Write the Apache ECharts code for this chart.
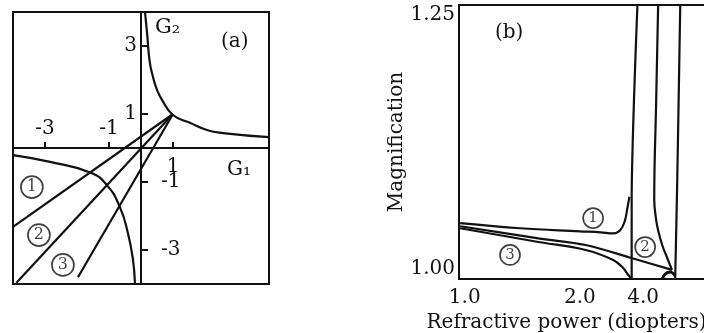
<!DOCTYPE html>
<html>
<head>
<meta charset="utf-8">
<script src="https://cdn.jsdelivr.net/npm/echarts@6/dist/echarts.min.js"></script>
<style>
  html, body { margin: 0; padding: 0; background: #fff; }
  #chart { width: 704px; height: 333px; }
</style>
</head>
<body>
<div id="chart"></div>
<script>
// ---------- (a) G1–G2 plane ----------
const hyperbolaA = [[0.125, 4.0], [0.19, 3.38], [0.27, 2.55], [0.375, 2.09], [0.5, 1.71], [0.66, 1.41],
                    [1.0, 0.97], [1.53, 0.74], [2.06, 0.53], [2.56, 0.44], [4.0, 0.32]];
const arcA = [[-4.0, -0.21], [-2.84, -0.41], [-1.59, -0.72], [-1.06, -1.10], [-0.66, -1.74],
              [-0.41, -2.5], [-0.25, -3.29], [-0.19, -3.97]];
const ray1 = [[1, 1], [-4.0, -2.32]];
const ray2 = [[1, 1], [-3.9, -3.97]];
const ray3 = [[1, 1], [-1.97, -3.8]];
const tagsA = [[-3.41, -1.15, '1'], [-3.19, -2.56, '2'], [-2.44, -3.44, '3']];
const g1Ticks = [-3, -1, 1];
const g1LabelsAbove = [-3, -1];
const g1LabelsBelow = [1];
const g2Ticks = [3, 1, -1, -3];
const g2LabelsLeft = [3, 1];
const g2LabelsRight = [-1, -3];

// ---------- (b) magnification vs refractive power ----------
const curve1Left = [[0.96, 1.045], [1.48, 1.040], [2.00, 1.037], [2.18, 1.036], [2.29, 1.035],
                    [2.35, 1.038], [2.39, 1.047], [2.41, 1.058], [2.43, 1.071]];
const curve1Right = [[2.50, 1.26], [2.47, 1.166], [2.45, 1.068], [2.45, 0.99]];
const curve2Left = [[0.96, 1.042], [1.64, 1.030], [2.05, 1.0235], [2.44, 1.011], [2.80, 0.999]];
const curve2Right = [[2.68, 1.26], [2.663, 1.166], [2.646, 1.068], [2.663, 1.048], [2.68, 1.038],
                     [2.715, 1.0235], [2.759, 1.0107], [2.80, 0.999]];
const curve3 = [[0.96, 1.040], [1.64, 1.0265], [2.05, 1.0186], [2.29, 1.0087], [2.376, 1.0008],
                [2.42, 0.9939], [2.454, 0.99]];
const farBranch = [[2.872, 1.26], [2.846, 1.0876], [2.828, 0.99]];
const cuspLoop = [[2.715, 0.99], [2.741, 0.9949], [2.785, 0.9969], [2.828, 0.993]];
const tagsB = [[2.115, 1.050, '1'], [2.567, 1.0215, '2'], [1.393, 1.0137, '3']];
const powerTickValues = [1.0, 2.0, 2.55];
const powerTickLabels = ['1.0', '2.0', '4.0'];
const magTickValues = [1.0, 1.25];

// ---------- styling ----------
const ink = '#111';
const serif = 'DejaVu Serif';
const gridA = { left: 13, top: 12, width: 256, height: 272 };
const gridB = { left: 459, top: 5, width: 259, height: 274 };
const rangeA = [-4, 4];
const rangeBx = [0.95, 3.2];
const rangeBy = [0.99, 1.26];

// axes of panel (a) cross at the origin: shift them inward from the grid edges
const xAxisShift = -gridA.height * (0 - rangeA[0]) / (rangeA[1] - rangeA[0]);
const yAxisShift = -gridA.width * (0 - rangeA[0]) / (rangeA[1] - rangeA[0]);

const txt = (size) => ({ color: ink, fontFamily: serif, fontSize: size });

function curve(data, xi, yi, smooth, width) {
  return {
    type: 'line', data, xAxisIndex: xi, yAxisIndex: yi,
    showSymbol: false, smooth: smooth, silent: true,
    lineStyle: { color: ink, width: width || 2.2 }
  };
}
// circled curve numbers
function tags(data, xi, yi, d, size) {
  return {
    type: 'scatter', data, xAxisIndex: xi, yAxisIndex: yi, silent: true,
    symbolSize: 1, itemStyle: { color: 'rgba(0,0,0,0)' },
    label: {
      show: true, position: 'inside', formatter: (p) => '{c|' + p.data[2] + '}',
      rich: {
        c: {
          width: d, height: d, lineHeight: d, align: 'center', verticalAlign: 'middle',
          borderColor: ink, borderWidth: 1.7, borderRadius: d / 2,
          color: ink, fontFamily: serif, fontSize: size
        }
      }
    }
  };
}

const powerLabelMap = new Map(powerTickValues.map((v, i) => [v, powerTickLabels[i]]));

const option = {
  animation: false,
  backgroundColor: '#fff',
  title: [
    { text: '(a)', left: 221, top: 32, padding: 0, textStyle: Object.assign(txt(20), { fontWeight: 'normal' }) },
    { text: '(b)', left: 495, top: 23, padding: 0, textStyle: Object.assign(txt(20), { fontWeight: 'normal' }) }
  ],
  grid: [
    Object.assign({ show: true, borderColor: ink, borderWidth: 2, outerBoundsMode: 'none' }, gridA),
    Object.assign({ show: true, borderColor: ink, borderWidth: 2, outerBoundsMode: 'none' }, gridB)
  ],
  xAxis: [
    { // G1 axis through the origin, label "1" underneath
      gridIndex: 0, type: 'value', min: rangeA[0], max: rangeA[1], position: 'bottom', offset: xAxisShift,
      axisLine: { show: true, onZero: false, lineStyle: { color: ink, width: 2 } },
      axisTick: { show: true, customValues: g1Ticks, inside: true, length: 6, lineStyle: { color: ink, width: 2 } },
      axisLabel: Object.assign({ customValues: g1LabelsBelow, margin: 9 }, txt(20)),
      splitLine: { show: false },
      name: 'G₁', nameLocation: 'end', nameGap: -42,
      nameTextStyle: Object.assign({ align: 'left', verticalAlign: 'top', padding: [12, 0, 0, 0] }, txt(20))
    },
    { // labels above the G1 axis
      gridIndex: 0, type: 'value', min: rangeA[0], max: rangeA[1], position: 'top', offset: xAxisShift,
      axisLine: { show: false, onZero: false }, axisTick: { show: false },
      axisLabel: Object.assign({ customValues: g1LabelsAbove, margin: 9 }, txt(20)),
      splitLine: { show: false }
    },
    { // refractive power
      gridIndex: 1, type: 'value', min: rangeBx[0], max: rangeBx[1], position: 'bottom',
      axisLine: { show: false, onZero: false }, axisTick: { show: false },
      axisLabel: Object.assign({
        customValues: powerTickValues, margin: 9,
        formatter: (v) => powerLabelMap.has(v) ? powerLabelMap.get(v) : ''
      }, txt(20)),
      splitLine: { show: false },
      name: 'Refractive power (diopters)', nameLocation: 'middle', nameGap: 30,
      nameTextStyle: Object.assign({ padding: [0, 44, 0, 0] }, txt(20))
    }
  ],
  yAxis: [
    { // G2 axis through the origin, labels on the left
      gridIndex: 0, type: 'value', min: rangeA[0], max: rangeA[1], position: 'left', offset: yAxisShift,
      axisLine: { show: true, onZero: false, lineStyle: { color: ink, width: 2 } },
      axisTick: { show: true, customValues: g2Ticks, inside: true, length: 7, lineStyle: { color: ink, width: 2 } },
      axisLabel: Object.assign({ customValues: g2LabelsLeft, margin: 4 }, txt(20)),
      splitLine: { show: false },
      name: 'G₂', nameLocation: 'end', nameGap: -26,
      nameTextStyle: Object.assign({ align: 'left', verticalAlign: 'bottom', padding: [0, 0, 0, 14] }, txt(21))
    },
    { // negative G2 labels to the right of the axis
      gridIndex: 0, type: 'value', min: rangeA[0], max: rangeA[1], position: 'right', offset: yAxisShift,
      axisLine: { show: false, onZero: false }, axisTick: { show: false },
      axisLabel: Object.assign({ customValues: g2LabelsRight, margin: 20 }, txt(20)),
      splitLine: { show: false }
    },
    { // magnification
      gridIndex: 1, type: 'value', min: rangeBy[0], max: rangeBy[1], position: 'left',
      axisLine: { show: false, onZero: false }, axisTick: { show: false },
      axisLabel: Object.assign({ customValues: magTickValues, margin: 4, formatter: (v) => v.toFixed(2) }, txt(20)),
      splitLine: { show: false },
      name: 'Magnification', nameLocation: 'middle', nameGap: 36, nameRotate: 90,
      nameTextStyle: txt(20)
    }
  ],
  series: [
    curve(hyperbolaA, 0, 0, 0.5),
    curve(arcA, 0, 0, 0.5),
    curve(ray1, 0, 0, false),
    curve(ray2, 0, 0, false),
    curve(ray3, 0, 0, false),
    tags(tagsA, 0, 0, 22, 16),

    curve(curve1Left, 2, 2, 0.4),
    curve(curve1Right, 2, 2, 0.3),
    curve(curve2Left, 2, 2, 0.3),
    curve(curve2Right, 2, 2, 0.4),
    curve(curve3, 2, 2, 0.4),
    curve(farBranch, 2, 2, 0.3),
    curve(cuspLoop, 2, 2, 0.4, 3),
    tags(tagsB, 2, 2, 20, 15)
  ]
};

const chart = echarts.init(document.getElementById('chart'), null, { renderer: 'canvas' });
chart.setOption(option);
</script>
</body>
</html>
